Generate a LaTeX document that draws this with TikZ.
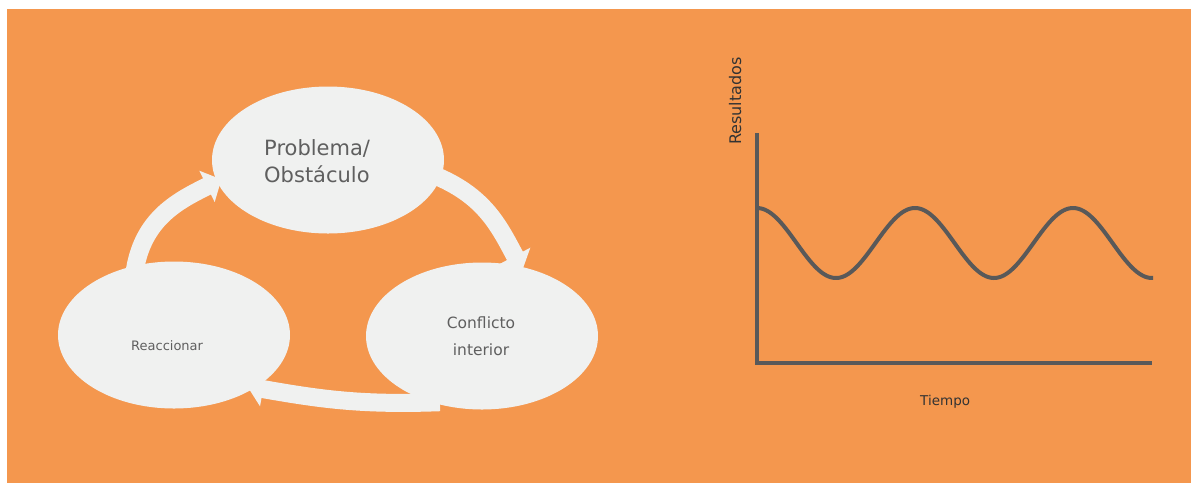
\documentclass[tikz,border=0pt]{standalone}
\usepackage{fontspec}
\setmainfont{DejaVu Sans}
\usetikzlibrary{shapes.geometric,arrows.meta}
\pgfdeclarelayer{bg}
\pgfdeclarelayer{mid}
\pgfsetlayers{bg,mid,main}
\definecolor{orng}{RGB}{244,151,78}
\definecolor{pale}{RGB}{240,241,240}
\definecolor{txtgray}{RGB}{95,95,95}
\definecolor{axisgray}{RGB}{89,89,89}
\definecolor{darktxt}{RGB}{51,51,51}
\begin{document}
\begin{tikzpicture}[x=1pt,y=-1pt,
  stage/.style={ellipse, fill=pale, minimum width=232pt, minimum height=147pt, inner sep=0pt},
  flow/.style={draw=pale, line width=18pt, -{Triangle[width=34pt,length=16pt]}},
  axisline/.style={draw=axisgray, line width=4pt},
  lbl/.style={inner sep=0pt, text=txtgray},
  glbl/.style={inner sep=0pt, text=darktxt}]
\useasboundingbox (0,0) rectangle (1191,483);
\begin{pgfonlayer}{bg}
  \fill[orng] (7,9) rectangle (1191,483);
\end{pgfonlayer}
% stages
\node[stage] (prob) at (328,160) {};
\node[stage] (conf) at (482,336) {};
\node[stage] (react) at (174,335) {};
\node[lbl, font=\fontsize{21}{27}\selectfont, align=left, anchor=base west] (ptxt) at (264,182) {Problema/\\Obstáculo};
\node[lbl, font=\fontsize{15.5}{27}\selectfont, align=center, anchor=base] (ctxt) at (481,355) {Conflicto\\interior};
\node[lbl, font=\fontsize{13}{16}\selectfont, anchor=base west] (rtxt) at (131,350) {Reaccionar};
% cycle arrows
\begin{pgfonlayer}{mid}
  \draw[flow, shorten <=-8pt, shorten >=-4pt] (prob.-9) to[out=-22, in=118] (conf.61);
  \draw[flow, shorten <=-8pt, shorten >=-8pt] (conf.233) to[out=182, in=-10] (react.-33);
  \draw[flow, shorten <=-8pt, shorten >=-5pt] (react.119) to[out=82, in=206] (prob.191);
\end{pgfonlayer}
% graph
\coordinate (origin) at (757,363);
\coordinate (ytop) at (757,133);
\coordinate (xend) at (1152,363);
\draw[axisline] (ytop) -- (origin) -- (xend);
\draw[axisgray, line width=4pt, domain=0:396, samples=200, smooth] plot ({757+\x}, {243 - 35*cos(2.27848*\x)});
\node[glbl, font=\fontsize{16}{19}\selectfont, rotate=90, anchor=base west] (ylab) at (741,145) {Resultados};
\node[glbl, font=\fontsize{13.5}{16}\selectfont, anchor=base west] (xlab) at (920,405) {Tiempo};
\end{tikzpicture}
\end{document}
